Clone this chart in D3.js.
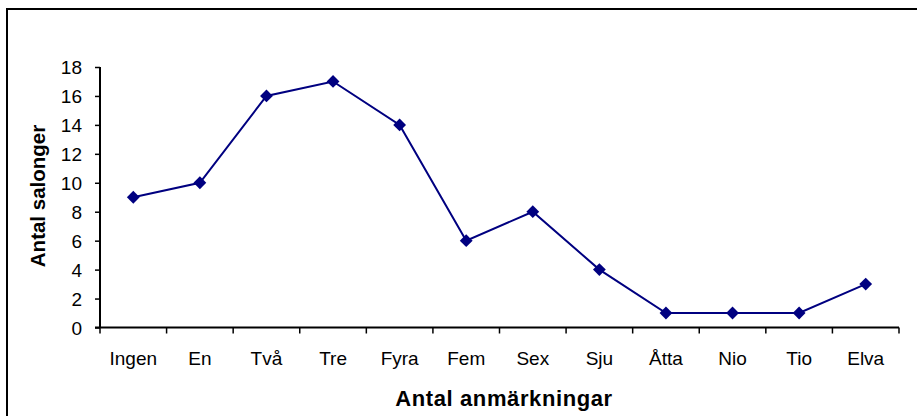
<!DOCTYPE html>
<html><head><meta charset="utf-8">
<script src="https://cdn.jsdelivr.net/npm/d3@7"></script>
<style>body{margin:0;background:#fff}svg{display:block}</style>
</head><body>
<script>
const categories = ["Ingen","En","Två","Tre","Fyra","Fem","Sex","Sju","Åtta","Nio","Tio","Elva"];
const values = [9,10,16,17,14,6,8,4,1,1,1,3];
const yTicks = [0,2,4,6,8,10,12,14,16,18];
const xTitle = "Antal anmärkningar";
const yTitle = "Antal salonger";

(function(){
const W = 917, H = 416;
const svg = d3.select("body").append("svg").attr("width", W).attr("height", H);
svg.append("rect").attr("x",7).attr("y",9).attr("width",W+10).attr("height",H+10)
  .attr("fill","none").attr("stroke","#000").attr("stroke-width",2);

const pL = 100, pR = 899, pT = 67, pB = 327.5;
const x = d3.scaleBand().domain(categories).range([pL, pR]);
const y = d3.scaleLinear().domain([0,18]).range([pB, pT]);
const font = "Arial, 'Liberation Sans', sans-serif";

const yAxis = svg.append("g").attr("transform",`translate(${pL},0)`)
  .call(d3.axisLeft(y).tickValues(yTicks).tickSize(5).tickPadding(13));
yAxis.select(".domain").attr("stroke","#000").attr("stroke-width",2).attr("d",`M0,${pT}V${pB}`);
yAxis.selectAll("text").attr("font-family",font).attr("font-size",19).attr("fill","#000").attr("dy","0.35em");
yAxis.selectAll(".tick line").attr("stroke","#000").attr("stroke-width",1.5);

const xAxis = svg.append("g").attr("transform",`translate(0,${pB})`)
  .call(d3.axisBottom(x).tickSize(0));
xAxis.select(".domain").attr("stroke","#000").attr("stroke-width",2).attr("d",`M${pL - 5},0H${pR}`);
xAxis.selectAll("text").attr("font-family",font).attr("font-size",19).attr("fill","#000")
  .attr("y",37.5).attr("dy",0);
const bounds = categories.map(c => x(c)).concat([pR]);
svg.append("g").selectAll("line").data(bounds).join("line")
  .attr("x1",d=>d).attr("x2",d=>d).attr("y1",pB).attr("y2",pB+6)
  .attr("stroke","#000").attr("stroke-width",1.5);

const cx = c => x(c) + x.bandwidth()/2;
const line = d3.line().x((d,i)=>cx(categories[i])).y(d=>y(d));
svg.append("path").datum(values).attr("d",line).attr("fill","none")
  .attr("stroke","#000080").attr("stroke-width",2);
svg.append("g").selectAll("path").data(values).join("path")
  .attr("d", d3.symbol().type(d3.symbolSquare).size(82))
  .attr("transform",(d,i)=>`translate(${cx(categories[i])},${y(d)}) rotate(45)`)
  .attr("fill","#000080");

svg.append("text").attr("x",504).attr("y",406).attr("text-anchor","middle")
  .attr("font-family",font).attr("font-size",22).attr("font-weight","bold")
  .attr("letter-spacing",0.6).text(xTitle);
svg.append("text").attr("transform",`translate(45,196) rotate(-90)`).attr("text-anchor","middle")
  .attr("font-family",font).attr("font-size",20.5).attr("font-weight","bold").text(yTitle);
})();
</script>
</body></html>
